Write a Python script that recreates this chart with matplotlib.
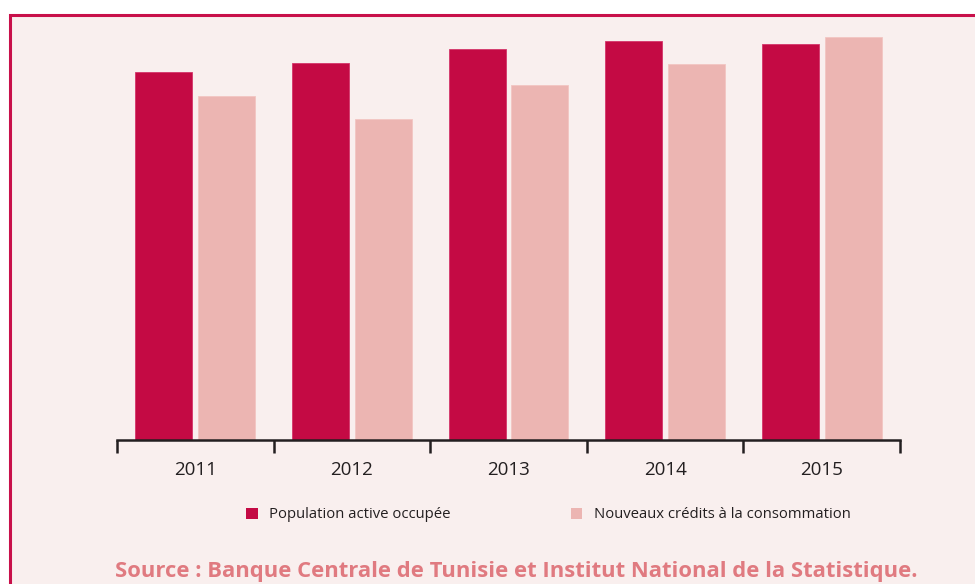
import numpy as np
import matplotlib.pyplot as plt
from matplotlib.patches import Rectangle, Patch

annees = ['2011', '2012', '2013', '2014', '2015']
population = [368, 377, 391, 399, 396]
credits = [344, 321, 355, 376, 403]

rouge = '#C40A44'
rose = '#ECB5B2'
fond = '#F9EFEE'

plt.rcParams['font.family'] = ['Open Sans', 'DejaVu Sans']

fig = plt.figure(figsize=(9.75, 5.84), dpi=100)
fig.patch.set_facecolor('white')

# cadre
fig.patches.append(Rectangle((10 / 975, -0.05), 1.05, (584 - 15) / 584 + 0.05,
                             transform=fig.transFigure, facecolor=fond,
                             edgecolor='#C8104A', linewidth=2.2, zorder=-5))

ax = fig.add_axes([117 / 975, (584 - 440) / 584, (900 - 117) / 975, (440 - 16) / 584])
ax.set_facecolor('none')
ax.set_zorder(2)

x = np.arange(len(annees))
w = 0.364
ax.bar(x - 0.201, population, w, color=rouge, edgecolor='#D4356A', linewidth=0.6, zorder=2)
ax.bar(x + 0.201, credits, w, color=rose, edgecolor='#F2C6C3', linewidth=0.6, zorder=2)

ax.set_xlim(-0.5, 4.5)
ax.set_ylim(0, 424)
ax.set_yticks([])
for s in ['top', 'left', 'right']:
    ax.spines[s].set_visible(False)
ax.spines['bottom'].set_color('#231F20')
ax.spines['bottom'].set_linewidth(1.8)
ax.spines['bottom'].set_zorder(3)

ax.set_xticks(np.arange(-0.5, 5, 1))
ax.set_xticklabels([])
ax.tick_params(axis='x', which='major', length=9, width=1.8, color='#231F20', direction='out')
ax.set_xticks(x, minor=True)
ax.set_xticklabels(annees, minor=True, fontsize=13.5, color='#231F20')
ax.tick_params(axis='x', which='minor', length=0, pad=15)

handles = [Patch(facecolor=rouge, label='Population active occupée'),
           Patch(facecolor=rose, label='Nouveaux crédits à la consommation')]
fig.legend(handles=handles, loc='center left', bbox_to_anchor=(233 / 975, 1 - 515 / 584),
           ncol=2, frameon=False, fontsize=10.7, handlelength=0.75, handleheight=0.75,
           handletextpad=0.8, columnspacing=8.1, labelcolor='#231F20')

fig.text(516 / 975, 1 - 572 / 584,
         'Source : Banque Centrale de Tunisie et Institut National de la Statistique.',
         ha='center', va='center', fontsize=15.8, fontweight='bold', color='#E07A80')

fig.savefig('out.png', dpi=100, facecolor='white')
